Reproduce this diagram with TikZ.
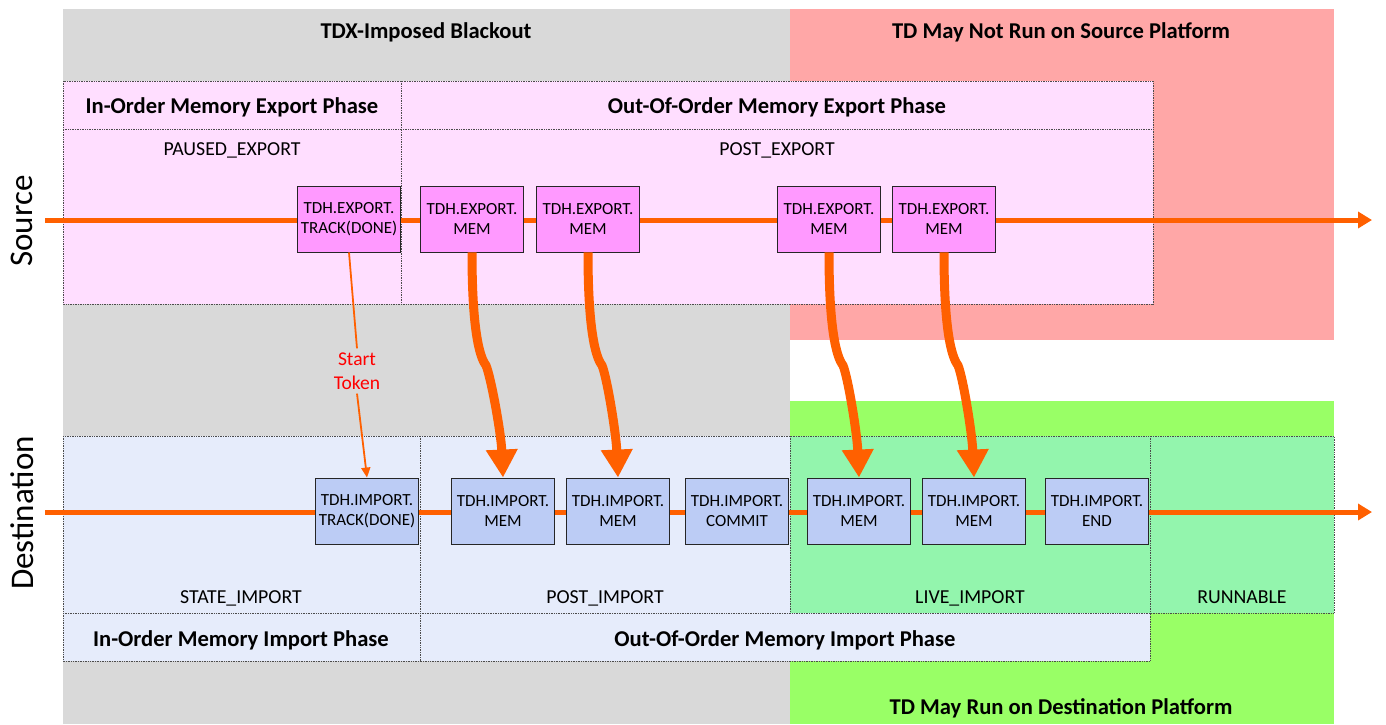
\documentclass[tikz,border=0pt]{standalone}
\usepackage{fontspec}
\setmainfont{Carlito}
\usetikzlibrary{arrows.meta}
\definecolor{blackoutbg}{HTML}{D9D9D9}
\definecolor{nosourcebg}{HTML}{FFA7A7}
\definecolor{ondestbg}{HTML}{99FF66}
\definecolor{exportbg}{HTML}{FFDEFF}
\definecolor{exportbox}{HTML}{FF99FF}
\definecolor{importbg}{HTML}{E6ECFB}
\definecolor{importbox}{HTML}{BCCCF5}
\definecolor{livebg}{HTML}{93F5AD}
\definecolor{flow}{HTML}{FF6000}
\begin{document}
\begin{tikzpicture}[x=1pt, y=-1pt]
  \tikzstyle{every node}=[inner sep=0pt]
  \tikzstyle{region}=[draw=black!70, densely dotted, line width=0.7pt]
  \tikzstyle{call}=[draw=black!85, line width=0.9pt, minimum width=103pt, minimum height=66pt, align=center, font=\fontsize{17}{19.5}\selectfont]
  \tikzstyle{title}=[font=\fontsize{22.6}{27}\selectfont\bfseries]
  \tikzstyle{state}=[font=\fontsize{19.8}{23}\selectfont]
  \tikzstyle{side}=[rotate=90, font=\fontsize{33}{39}\selectfont]
  \tikzstyle{timeline}=[draw=flow, line width=5pt, -{Triangle[length=14pt,width=16pt]}]
  \tikzstyle{copy}=[draw=flow, line width=9pt, -{Triangle[length=28pt,width=30pt]}]

  \useasboundingbox (0,0) rectangle (1386,724);
  \fill[white] (0,0) rectangle (1386,724);

  % platforms and blackout
  \fill[blackoutbg] (63,9) rectangle (790,724);
  \fill[nosourcebg] (790,9) rectangle (1334,340);
  \fill[ondestbg] (790,401) rectangle (1334,724);

  % source phases
  \fill[exportbg] (63,81) rectangle (1153,304);
  \draw[region]
    (63,81) rectangle (1153,304)
    (63,129) -- (1153,129)
    (401,81) -- (401,304);

  % destination phases
  \fill[importbg] (63,436) rectangle (1150,661);
  \fill[livebg] (790,436) rectangle (1334,613);
  \draw[region]
    (63,436) rectangle (1334,613)
    (63,613) rectangle (1150,661)
    (420,436) -- (420,661)
    (790,436) -- (790,613)
    (1150,436) -- (1150,613);

  \path (426,32) node[title] (blackout) {TDX-Imposed Blackout};
  \path (1061,32) node[title] (nosource) {TD May Not Run on Source Platform};
  \path (1061,708) node[title] (ondest) {TD May Run on Destination Platform};
  \path (232,107) node[title] (inexp) {In-Order Memory Export Phase};
  \path (777,107) node[title] (ooexp) {Out-Of-Order Memory Export Phase};
  \path (241,640) node[title] (inimp) {In-Order Memory Import Phase};
  \path (785,640) node[title] (ooimp) {Out-Of-Order Memory Import Phase};

  \path (232,150) node[state] (paused) {PAUSED\_EXPORT};
  \path (777,150) node[state] (postexp) {POST\_EXPORT};
  \path (241,598) node[state] (stateimp) {STATE\_IMPORT};
  \path (605,598) node[state] (postimp) {POST\_IMPORT};
  \path (970,598) node[state] (liveimp) {LIVE\_IMPORT};
  \path (1242,597) node[state] (runnable) {RUNNABLE};

  \path (22,221) node[side] (source) {Source};
  \path (22,513) node[side] (destination) {Destination};

  % timelines
  \coordinate (srcin) at (45,220);
  \coordinate (srcout) at (1372,220);
  \coordinate (dstin) at (45,512);
  \coordinate (dstout) at (1372,512);
  \draw[timeline] (srcin) -- (srcout);
  \draw[timeline] (dstin) -- (dstout);

  \foreach \n/\x/\t in {1/349/TRACK(DONE), 2/472/MEM, 3/588/MEM, 4/829/MEM, 5/944/MEM}
  {
    \path (\x,219) node[call, fill=exportbox] (e\n) {TDH.EXPORT.\\\t};
  }

  \foreach \n/\x/\t in {1/367/TRACK(DONE), 2/503/MEM, 3/618/MEM, 4/737/COMMIT, 5/859/MEM, 6/974/MEM, 7/1097/END}
  {
    \path (\x,511) node[call, fill=importbox] (i\n) {TDH.IMPORT.\\\t};
  }

  \path (357,371) node[inner sep=4pt, align=center, text=red, font=\fontsize{19.5}{24}\selectfont] (token) {Start\\Token};
  \draw[flow, line width=1.8pt] (e1.south) -- (token.north);
  \draw[flow, line width=1.8pt, -{Triangle[length=10pt,width=9pt]}] (token.south) -- (i1.north);

  \foreach \a/\b in {2/2, 3/3, 4/5, 5/6}
  {
    \draw[copy] (e\a.south) .. controls +(0,75) and +(-7,-9) .. ++(14,113)
      .. controls +(5,12) and +(-2,-45) .. (i\b.north);
  }
\end{tikzpicture}
\end{document}
